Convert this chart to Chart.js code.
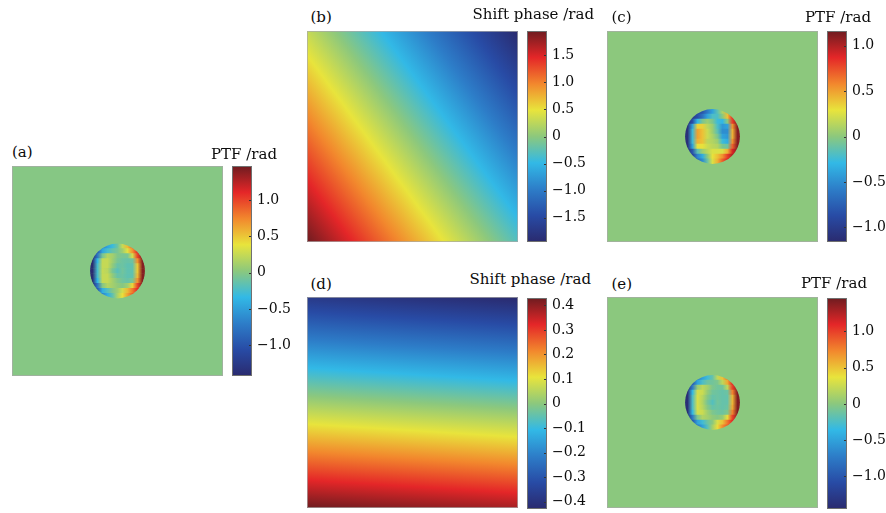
<!DOCTYPE html>
<html>
<head>
<meta charset="utf-8">
<title>PTF and shift phase maps</title>
<script src="https://cdn.jsdelivr.net/npm/chart.js@4.4.1/dist/chart.umd.min.js"></script>
<style>
  html, body { margin: 0; padding: 0; background: #fff; }
  #fig { position: relative; width: 886px; height: 513px; overflow: hidden; }
  #fig canvas { position: absolute; }
  .lbl { position: absolute; font-family: "DejaVu Serif", serif; font-size: 15px; line-height: 16px; color: #0c0c0c; white-space: nowrap; }
</style>
</head>
<body>
<div id="fig"></div>
<script>
// ---- values ----
const ptfTicks = [-1.0, -0.5, 0, 0.5, 1.0];
const shiftBTicks = [-1.5, -1.0, -0.5, 0, 0.5, 1.0, 1.5];
const shiftDTicks = [-0.4, -0.3, -0.2, -0.1, 0, 0.1, 0.2, 0.3, 0.4];

// colour bar limits (rad)
const rangeA = [-1.42, 1.47];
const rangeB = [-1.95, 1.95];
const rangeC = [-1.16, 1.16];
const rangeD = [-0.43, 0.43];
const rangeE = [-1.45, 1.46];

// shift phase at the corners: [top-left, top-right], [bottom-left, bottom-right]
const shiftB = [[0.30, -1.95], [1.95, -0.30]];
const shiftD = [[-0.38, -0.43], [0.43, 0.38]];

// PTF outside the pupil
const ptfOutside = 0;

// PTF inside the pupil, rows top -> bottom, columns left -> right
const ptfA = [
  [-1.20, -0.95, -0.65, -0.45, -0.30, -0.10, 0.25, 0.55, 0.85, 1.10, 1.30],
  [-1.30, -0.95, -0.45, -0.25, -0.12, -0.05, 0.10, 0.35, 0.70, 1.10, 1.35],
  [-1.35, -0.75, -0.05, 0.18, 0.12, -0.02, -0.05, -0.05, 0.30, 1.00, 1.40],
  [-1.40, -0.35, 0.25, 0.25, 0.10, -0.05, -0.10, -0.12, -0.10, 0.70, 1.40],
  [-1.40, -0.25, 0.25, 0.25, 0.05, -0.12, -0.10, -0.15, -0.15, 0.50, 1.40],
  [-1.40, -0.25, 0.25, 0.20, -0.05, -0.18, -0.08, -0.15, -0.15, 0.50, 1.40],
  [-1.40, -0.25, 0.25, 0.25, 0.05, -0.12, -0.10, -0.15, -0.15, 0.55, 1.40],
  [-1.40, -0.35, 0.25, 0.25, 0.12, 0.00, -0.08, -0.12, -0.05, 0.70, 1.40],
  [-1.35, -0.75, 0.00, 0.18, 0.12, 0.05, 0.00, 0.10, 0.45, 1.00, 1.40],
  [-1.30, -0.95, -0.40, -0.20, -0.02, 0.10, 0.30, 0.55, 0.80, 1.10, 1.35],
  [-1.20, -0.95, -0.65, -0.40, -0.15, 0.15, 0.40, 0.65, 0.90, 1.10, 1.30]
];
const ptfC = [
  [-1.05, -1.00, -0.90, -0.80, -0.60, -0.40, -0.15, 0.10, 0.45, 0.80, 1.05],
  [-1.10, -1.00, -0.85, -0.65, -0.40, -0.20, -0.20, 0.00, 0.40, 0.85, 1.10],
  [-1.10, -0.85, -0.30, -0.05, 0.05, -0.05, -0.25, -0.30, 0.00, 0.80, 1.10],
  [-1.10, -0.40, 0.35, 0.35, 0.15, 0.05, -0.20, -0.45, -0.40, 0.55, 1.10],
  [-1.10, -0.25, 0.50, 0.40, 0.20, 0.05, -0.15, -0.50, -0.50, 0.45, 1.10],
  [-1.10, -0.25, 0.50, 0.40, 0.20, 0.10, -0.05, -0.40, -0.45, 0.45, 1.10],
  [-1.10, -0.25, 0.45, 0.40, 0.15, 0.12, 0.05, -0.25, -0.35, 0.55, 1.10],
  [-1.10, -0.40, 0.30, 0.30, 0.20, 0.15, 0.12, -0.05, -0.10, 0.70, 1.10],
  [-1.10, -0.80, -0.15, 0.05, 0.15, 0.25, 0.25, 0.25, 0.45, 0.90, 1.10],
  [-1.05, -0.95, -0.55, -0.35, 0.00, 0.30, 0.40, 0.55, 0.80, 1.00, 1.10],
  [-1.00, -0.95, -0.70, -0.50, -0.10, 0.25, 0.45, 0.70, 0.90, 1.00, 1.05]
];
const ptfE = [
  [-1.30, -1.05, -0.75, -0.50, -0.30, -0.15, 0.20, 0.50, 0.80, 1.10, 1.35],
  [-1.35, -1.00, -0.50, -0.25, -0.12, -0.10, -0.05, 0.20, 0.60, 1.10, 1.35],
  [-1.35, -0.75, 0.05, 0.20, 0.10, -0.05, -0.10, -0.10, 0.20, 1.00, 1.35],
  [-1.40, -0.35, 0.28, 0.25, 0.05, -0.10, -0.12, -0.15, -0.12, 0.75, 1.40],
  [-1.40, -0.25, 0.30, 0.18, -0.02, -0.15, -0.12, -0.15, -0.15, 0.55, 1.40],
  [-1.40, -0.25, 0.30, 0.15, -0.08, -0.22, -0.10, -0.15, -0.15, 0.55, 1.40],
  [-1.40, -0.25, 0.30, 0.18, -0.02, -0.15, -0.12, -0.15, -0.12, 0.60, 1.40],
  [-1.40, -0.35, 0.28, 0.25, 0.08, -0.05, -0.10, -0.12, -0.05, 0.75, 1.40],
  [-1.35, -0.75, -0.05, 0.15, 0.10, 0.02, -0.02, 0.05, 0.40, 1.00, 1.35],
  [-1.35, -1.00, -0.50, -0.30, -0.12, 0.00, 0.30, 0.50, 0.80, 1.10, 1.35],
  [-1.30, -1.05, -0.75, -0.50, -0.20, 0.10, 0.40, 0.70, 0.90, 1.10, 1.30]
];

// ---- look ----
const JET = [
  [0.000, [42, 42, 110]],
  [0.125, [40, 75, 165]],
  [0.250, [45, 125, 200]],
  [0.375, [50, 185, 230]],
  [0.500, [140, 200, 125]],
  [0.625, [232, 228, 60]],
  [0.750, [242, 135, 45]],
  [0.875, [228, 38, 40]],
  [1.000, [110, 28, 32]]
];
const DISK_R = 0.13;   // pupil radius, fraction of plot width
const LABEL_W = 40;    // room for colour bar tick labels
const TEXT = '#0c0c0c';

Chart.defaults.animation = false;
Chart.defaults.responsive = false;
Chart.defaults.events = [];
Chart.defaults.font.family = '"DejaVu Serif", serif';
Chart.defaults.plugins.legend.display = false;
Chart.defaults.plugins.tooltip.enabled = false;

const fig = document.getElementById('fig');

function addCanvas(left, top, w, h) {
  const c = document.createElement('canvas');
  c.width = w; c.height = h;
  c.style.left = left + 'px'; c.style.top = top + 'px';
  c.style.width = w + 'px'; c.style.height = h + 'px';
  fig.appendChild(c);
  return c;
}

function addLabel(text, x, top, align) {
  const d = document.createElement('div');
  d.className = 'lbl';
  d.textContent = text;
  d.style.top = top + 'px';
  if (align === 'right') d.style.right = (886 - x) + 'px';
  else d.style.left = x + 'px';
  fig.appendChild(d);
}

function cmap(v, range) {
  let t = (v - range[0]) / (range[1] - range[0]);
  t = Math.max(0, Math.min(1, t));
  for (let i = 1; i < JET.length; i++) {
    if (t <= JET[i][0]) {
      const [t0, c0] = JET[i - 1], [t1, c1] = JET[i];
      const f = (t - t0) / (t1 - t0);
      const c = c0.map((a, k) => Math.round(a + (c1[k] - a) * f));
      return 'rgb(' + c.join(',') + ')';
    }
  }
  return 'rgb(' + JET[JET.length - 1][1].join(',') + ')';
}

function fillStops(grad) {
  JET.forEach(s => grad.addColorStop(s[0], 'rgb(' + s[1].join(',') + ')'));
  return grad;
}

const finite = (...v) => v.every(Number.isFinite);

function fmtTick(v) {
  if (v === 0) return '0';
  return (v < 0 ? '\u2212' : '') + Math.abs(v).toFixed(1);
}

const frame = {
  id: 'frame',
  afterDraw(chart) {
    const { ctx, chartArea: a } = chart;
    ctx.save();
    ctx.strokeStyle = 'rgba(170,170,170,0.7)';
    ctx.lineWidth = 1;
    ctx.strokeRect(a.left + 0.5, a.top + 0.5, a.right - a.left - 1, a.bottom - a.top - 1);
    ctx.restore();
  }
};

const barDecor = {
  id: 'barDecor',
  afterDatasetsDraw(chart) {
    const { ctx, chartArea: a, scales: { y } } = chart;
    ctx.save();
    ctx.strokeStyle = '#333';
    ctx.lineWidth = 1;
    y.ticks.forEach(t => {
      const py = Math.round(y.getPixelForValue(t.value)) + 0.5;
      ctx.beginPath();
      ctx.moveTo(a.right - 3, py);
      ctx.lineTo(a.right, py);
      ctx.stroke();
    });
    ctx.strokeStyle = '#707070';
    ctx.strokeRect(a.left + 0.5, a.top + 0.5, a.right - a.left - 1, a.bottom - a.top - 1);
    ctx.restore();
  }
};

// pupil map: one horizontal strip per grid row, clipped to a circle on a flat background
function diskChart(box, grid, range) {
  const n = grid.length;
  const cell = 2 * DISK_R / n;
  const pos = i => 0.5 + (i - (n - 1) / 2) * cell;
  const pupil = {
    id: 'pupil',
    beforeDatasetsDraw(chart) {
      const { ctx, chartArea: a, scales: { x, y } } = chart;
      ctx.save();
      ctx.fillStyle = cmap(ptfOutside, range);
      ctx.fillRect(a.left, a.top, a.right - a.left, a.bottom - a.top);
      const cx = x.getPixelForValue(0.5), cy = y.getPixelForValue(0.5);
      const rad = x.getPixelForValue(0.5 + DISK_R) - cx;
      ctx.beginPath();
      ctx.arc(cx, cy, rad, 0, Math.PI * 2);
      ctx.clip();
    },
    afterDatasetsDraw(chart) { chart.ctx.restore(); }
  };
  return new Chart(addCanvas(...box), {
    type: 'bar',
    data: {
      datasets: [{
        data: grid.map((row, r) => ({ y: pos(r), x: [0.5 - DISK_R, 0.5 + DISK_R] })),
        barPercentage: 1,
        categoryPercentage: 1,
        borderWidth: 0,
        backgroundColor: ctx => {
          const row = grid[ctx.dataIndex];
          const xs = ctx.chart.scales.x;
          if (!row || !xs || !ctx.chart.chartArea) return cmap(ptfOutside, range);
          const x0 = xs.getPixelForValue(pos(0)), x1 = xs.getPixelForValue(pos(n - 1));
          if (!finite(x0, x1) || x0 === x1) return cmap(ptfOutside, range);
          const g = ctx.chart.ctx.createLinearGradient(x0, 0, x1, 0);
          row.forEach((v, c) => g.addColorStop(c / (n - 1), cmap(v, range)));
          return g;
        }
      }]
    },
    options: {
      indexAxis: 'y',
      scales: {
        x: { type: 'linear', display: false, min: 0, max: 1 },
        y: { type: 'linear', display: false, min: 0, max: 1, reverse: true, offset: false }
      }
    },
    plugins: [pupil, frame]
  });
}

// linear phase ramp through the four corner values
function rampFill(chart, corners, range) {
  const a = chart.chartArea;
  if (!a) return cmap(0, range);
  const [[tl, tr], [bl]] = corners;
  const w = a.right - a.left, h = a.bottom - a.top;
  const gx = (tr - tl) / w, gy = (bl - tl) / h;
  const g2 = gx * gx + gy * gy;
  const cx = (a.left + a.right) / 2, cy = (a.top + a.bottom) / 2;
  const pc = tl + (tr - tl) / 2 + (bl - tl) / 2;
  const s0 = (range[0] - pc) / g2, s1 = (range[1] - pc) / g2;
  const p = [cx + s0 * gx, cy + s0 * gy, cx + s1 * gx, cy + s1 * gy];
  if (!finite(...p)) return cmap(0, range);
  return fillStops(chart.ctx.createLinearGradient(...p));
}

function rampChart(box, corners, range) {
  return new Chart(addCanvas(...box), {
    type: 'bar',
    data: {
      labels: ['field'],
      datasets: [{
        data: [[0, 1]],
        barPercentage: 1,
        categoryPercentage: 1,
        borderWidth: 0,
        backgroundColor: ctx => rampFill(ctx.chart, corners, range)
      }]
    },
    options: {
      scales: {
        x: { display: false },
        y: { display: false, min: 0, max: 1 }
      }
    },
    plugins: [frame]
  });
}

function colorBar(box, range, ticks) {
  const [left, top, w, h] = box;
  const pad = 10;
  return new Chart(addCanvas(left, top - pad, w + LABEL_W, h + 2 * pad), {
    type: 'bar',
    data: {
      labels: [''],
      datasets: [{
        data: [range],
        barPercentage: 1,
        categoryPercentage: 1,
        borderWidth: 0,
        backgroundColor: ctx => {
          const s = ctx.chart.scales.y;
          if (!s || !ctx.chart.chartArea) return '#888';
          const y0 = s.getPixelForValue(range[0]), y1 = s.getPixelForValue(range[1]);
          if (!finite(y0, y1)) return '#888';
          return fillStops(ctx.chart.ctx.createLinearGradient(0, y0, 0, y1));
        }
      }]
    },
    options: {
      layout: { padding: { top: pad, bottom: pad, left: 0, right: 0 } },
      scales: {
        x: { display: false },
        y: {
          position: 'right',
          min: range[0],
          max: range[1],
          grid: { display: false, drawTicks: false },
          border: { display: false },
          afterBuildTicks: s => { s.ticks = ticks.map(v => ({ value: v })); },
          afterFit: s => { s.width = LABEL_W; s.paddingTop = 0; s.paddingBottom = 0; },
          ticks: { padding: 5, autoSkip: false, color: TEXT, font: { size: 14 }, callback: v => fmtTick(v) }
        }
      }
    },
    plugins: [barDecor]
  });
}

// (a)
diskChart([12, 166, 211, 210], ptfA, rangeA);
colorBar([232, 166, 20, 210], rangeA, ptfTicks);
addLabel('(a)', 12, 144, 'left');
addLabel('PTF /rad', 277, 145.5, 'right');

// (b)
rampChart([307, 31, 211, 211], shiftB, rangeB);
colorBar([527, 31, 20, 211], rangeB, shiftBTicks);
addLabel('(b)', 310.5, 9, 'left');
addLabel('Shift phase /rad', 594, 6, 'right');

// (c)
diskChart([607, 31, 211, 211], ptfC, rangeC);
colorBar([827, 31, 20, 211], rangeC, ptfTicks);
addLabel('(c)', 611.5, 9, 'left');
addLabel('PTF /rad', 871, 8.5, 'right');

// (d)
rampChart([307, 297, 211, 211], shiftD, rangeD);
colorBar([527, 298, 20, 211], rangeD, shiftDTicks);
addLabel('(d)', 310.5, 276, 'left');
addLabel('Shift phase /rad', 591, 271, 'right');

// (e)
diskChart([607, 297, 211, 211], ptfE, rangeE);
colorBar([827, 298, 20, 211], rangeE, ptfTicks);
addLabel('(e)', 611.5, 276, 'left');
addLabel('PTF /rad', 867, 275, 'right');
</script>
</body>
</html>
